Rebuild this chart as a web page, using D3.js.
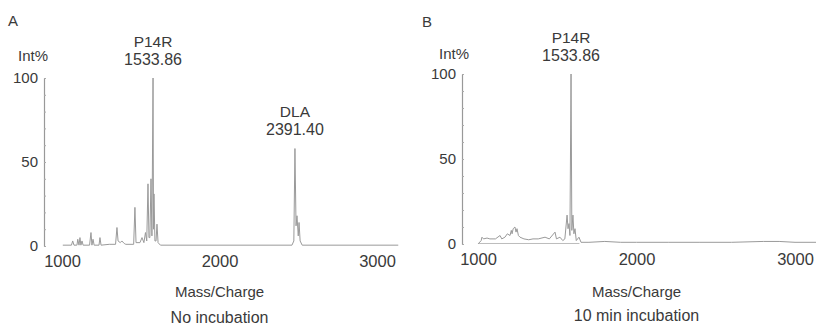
<!DOCTYPE html>
<html>
<head>
<meta charset="utf-8">
<script src="https://cdn.jsdelivr.net/npm/d3@7"></script>
<style>
  body { margin: 0; background: #fff; }
  text { font-family: "Liberation Sans", Arial, sans-serif; fill: #3a3a3a; }
</style>
</head>
<body>
<script>
var w = 816;
var h = 328;

// tick labels
var xTicks = [1000, 2000, 3000];
var yTicks = [0, 50, 100];
var yMinor = [0, 10, 20, 30, 40, 50, 60, 70, 80, 90, 100];

// spectrum A (no incubation)
var mzA = [1005, 1060, 1068, 1076, 1090, 1095, 1100, 1108, 1114, 1120,
    1127, 1134, 1175, 1184, 1190, 1197, 1204, 1235, 1241, 1248,
    1300, 1340, 1349, 1356, 1370, 1380, 1395, 1405, 1455, 1463,
    1470, 1495, 1508, 1520, 1530, 1538, 1546, 1552, 1558, 1565,
    1571, 1578, 1581, 1584, 1590, 1597, 1603, 1610, 1625, 2460,
    2472, 2479, 2486, 2492, 2500, 2505, 2512, 2525, 3135];
var intA = [0.5, 0.5, 3, 0.5, 0.5, 0.5, 4, 0.5, 5, 0.5,
    3, 0.5, 0.5, 8, 0.5, 4, 0.5, 0.5, 5, 0.5,
    1, 1, 11, 3, 2, 3, 1.5, 1, 1, 23,
    2, 2, 5, 2, 8, 3, 37, 5, 5, 40,
    6, 100, 10, 31, 3, 3, 13, 2, 0.5, 0.5,
    3, 58, 12, 18, 6, 14, 3, 0.5, 0.5];

// spectrum B (10 min incubation)
var mzB = [1000, 1020, 1025, 1035, 1057, 1075, 1110, 1139, 1150, 1170,
    1185, 1202, 1210, 1215, 1222, 1233, 1240, 1246, 1255, 1265,
    1290, 1320, 1347, 1380, 1423, 1450, 1486, 1495, 1517, 1535,
    1548, 1562, 1568, 1574, 1580, 1587, 1592, 1599, 1605, 1612,
    1620, 1637, 1650, 1700, 1800, 1900, 2000, 2200, 2400, 2600,
    2800, 2900, 3000, 3140];
var intB = [0, 2, 4, 3, 3.5, 3, 3, 5, 3, 4,
    6, 5, 8, 6, 9, 10, 7, 9, 5, 4,
    3, 2.5, 3, 3, 4, 3, 7, 3, 4, 2,
    3, 17, 9, 12, 5, 100, 8, 17, 6, 9,
    2, 4, 1, 1, 1.5, 1, 1, 1, 1, 1,
    1.5, 1.5, 1, 1];
var mzB0 = [1005, 1640];
var intB0 = [0.3, 0.3];

// peak annotations
var peaksA = [{name: "P14R", label: "1533.86", mz: 1578, v: 100},
              {name: "DLA", label: "2391.40", mz: 2479, v: 58}];
var peaksB = [{name: "P14R", label: "1533.86", mz: 1587, v: 100}];

var panels = [
    {letter: "A", title: "No incubation", mz: [mzA], it: [intA], peaks: peaksA,
     x0: 62, x1: 377, y0: 246, y1: 78, ax: 44, lx: 13, ly: 20, ix: 33, iy: 55, ty: 317},
    {letter: "B", title: "10 min incubation", mz: [mzB, mzB0], it: [intB, intB0], peaks: peaksB,
     x0: 478, x1: 795, y0: 244, y1: 74, ax: 462, lx: 427, ly: 21, ix: 454, iy: 53, ty: 315}
];

var svg = d3.select("body")
    .append("svg")
    .attr("width", w)
    .attr("height", h);

panels.forEach(function (p) {
    var x = d3.scaleLinear().domain([1000, 3000]).range([p.x0, p.x1]);
    var y = d3.scaleLinear().domain([0, 100]).range([p.y0, p.y1]);
    var g = svg.append("g");

    // spectrum traces
    var line = d3.line()
        .x(function (d) { return x(d[0]); })
        .y(function (d) { return y(d[1]); });
    p.mz.forEach(function (m, k) {
        g.append("path")
            .datum(d3.zip(m, p.it[k]))
            .attr("d", line)
            .attr("fill", "none")
            .attr("stroke", k == 0 ? "#9a9a9a" : "#bdbdbd")
            .attr("stroke-width", 1);
    });

    // y axis
    var ya = g.append("g")
        .attr("transform", "translate(" + p.ax + ",0)")
        .call(d3.axisLeft(y).tickValues(yTicks).tickSize(0).tickPadding(6));
    ya.select(".domain").attr("stroke", "#999").attr("stroke-width", 1.2);
    ya.selectAll("text").attr("font-size", 15).style("font-family", "Liberation Sans, Arial, sans-serif").attr("fill", "#3a3a3a");
    g.append("g")
        .attr("transform", "translate(" + p.ax + ",0)")
        .call(d3.axisRight(y).tickValues(yMinor).tickSize(2).tickFormat(""))
        .call(function (s) { s.select(".domain").remove(); s.selectAll("line").attr("stroke", "#aaa"); });

    // x axis labels
    var xa = g.append("g")
        .attr("transform", "translate(0," + (p.y0 + 6) + ")")
        .call(d3.axisBottom(x).tickValues(xTicks).tickSize(0).tickPadding(3).tickFormat(d3.format("d")));
    xa.select(".domain").remove();
    xa.selectAll("text").attr("font-size", 16.5).style("font-family", "Liberation Sans, Arial, sans-serif").attr("fill", "#3a3a3a");

    // texts
    g.append("text").text(p.letter).attr("x", p.lx).attr("y", p.ly)
        .attr("font-size", 15).attr("dominant-baseline", "central").attr("text-anchor", "middle");
    g.append("text").text("Int%").attr("x", p.ix).attr("y", p.iy)
        .attr("font-size", 15).attr("dominant-baseline", "central").attr("text-anchor", "middle");
    g.append("text").text("Mass/Charge").attr("x", x(2000)).attr("y", 291)
        .attr("font-size", 15).attr("dominant-baseline", "central").attr("text-anchor", "middle");
    g.append("text").text(p.title).attr("x", x(2000)).attr("y", p.ty)
        .attr("font-size", 16).attr("dominant-baseline", "central").attr("text-anchor", "middle");

    g.selectAll("text.pk")
        .data(p.peaks)
        .enter()
        .append("text")
        .attr("class", "pk")
        .attr("text-anchor", "middle")
        .attr("font-size", 15.5)
        .attr("x", function (d) { return x(d.mz); })
        .attr("y", function (d) { return y(d.v) - 37; })
        .attr("dominant-baseline", "central")
        .text(function (d) { return d.name; });
    g.selectAll("text.pv")
        .data(p.peaks)
        .enter()
        .append("text")
        .attr("class", "pv")
        .attr("text-anchor", "middle")
        .attr("font-size", 16)
        .attr("x", function (d) { return x(d.mz); })
        .attr("y", function (d) { return y(d.v) - 19; })
        .attr("dominant-baseline", "central")
        .text(function (d) { return d.label; });
});
</script>
</body>
</html>
